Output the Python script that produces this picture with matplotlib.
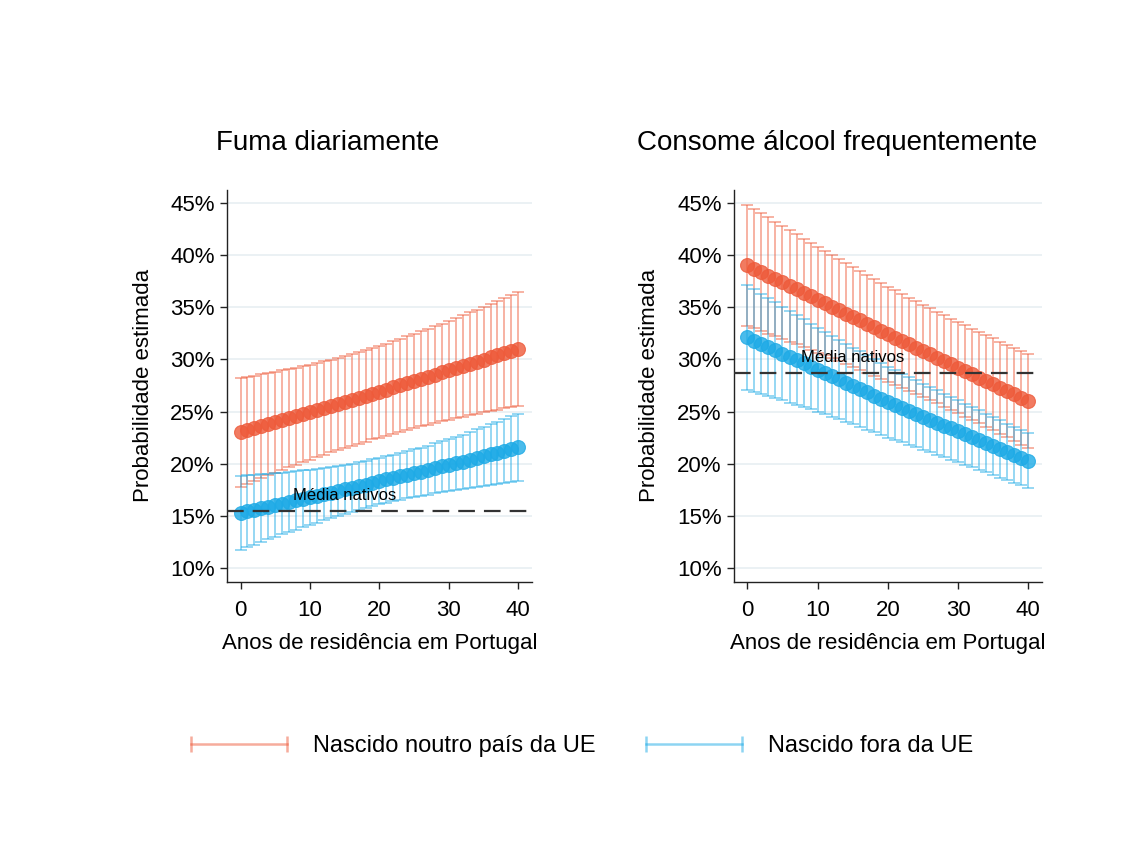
import numpy as np
import matplotlib.pyplot as plt
from matplotlib.lines import Line2D
from matplotlib.ticker import FuncFormatter

plt.rcParams['font.family'] = ['Liberation Sans', 'DejaVu Sans']
plt.rcParams['lines.scale_dashes'] = False

anos = np.arange(0, 41)

# Fuma diariamente (%), estimativas e meia-amplitude do IC 95%
fuma_ue = [23.0, 23.2, 23.39, 23.59, 23.78, 23.98, 24.17, 24.37, 24.56, 24.76, 24.95,
           25.15, 25.34, 25.54, 25.73, 25.93, 26.12, 26.32, 26.51, 26.71, 26.9,
           27.1, 27.31, 27.51, 27.72, 27.92, 28.13, 28.33, 28.54, 28.74, 28.95,
           29.15, 29.36, 29.56, 29.77, 29.97, 30.18, 30.38, 30.59, 30.79, 31.0]
fuma_ue_ic = [5.20, 5.12, 5.04, 4.96, 4.89, 4.82, 4.76, 4.70, 4.64, 4.59, 4.54,
              4.50, 4.47, 4.44, 4.42, 4.40, 4.39, 4.38, 4.38, 4.38, 4.39,
              4.40, 4.42, 4.44, 4.47, 4.50, 4.54, 4.58, 4.63, 4.68, 4.73,
              4.79, 4.85, 4.92, 4.99, 5.06, 5.13, 5.21, 5.29, 5.37, 5.45]
fuma_fora = [15.3, 15.45, 15.6, 15.75, 15.9, 16.05, 16.2, 16.35, 16.5, 16.65, 16.8,
             16.95, 17.1, 17.25, 17.4, 17.55, 17.7, 17.85, 18.0, 18.2, 18.35,
             18.5, 18.65, 18.8, 18.95, 19.1, 19.25, 19.4, 19.6, 19.75, 19.9,
             20.05, 20.2, 20.4, 20.55, 20.7, 20.9, 21.05, 21.2, 21.4, 21.6]
fuma_fora_ic = [3.55, 3.44, 3.34, 3.24, 3.14, 3.05, 2.96, 2.88, 2.80, 2.72, 2.65,
                2.58, 2.52, 2.46, 2.41, 2.36, 2.32, 2.29, 2.26, 2.24, 2.23,
                2.22, 2.22, 2.23, 2.25, 2.27, 2.30, 2.34, 2.38, 2.43, 2.48,
                2.54, 2.60, 2.67, 2.74, 2.81, 2.89, 2.97, 3.05, 3.13, 3.20]
fuma_nativos = 15.5

# Consome álcool frequentemente (%)
alcool_ue = [39.0, 38.67, 38.34, 38.01, 37.68, 37.35, 37.02, 36.69, 36.36, 36.03, 35.7,
             35.37, 35.04, 34.71, 34.38, 34.05, 33.72, 33.39, 33.06, 32.73, 32.4,
             32.08, 31.76, 31.44, 31.12, 30.8, 30.48, 30.16, 29.84, 29.52, 29.2,
             28.88, 28.56, 28.24, 27.92, 27.6, 27.28, 26.96, 26.64, 26.32, 26.0]
alcool_ue_ic = [5.80, 5.72, 5.64, 5.56, 5.48, 5.40, 5.33, 5.26, 5.19, 5.12, 5.05,
                4.99, 4.93, 4.87, 4.81, 4.76, 4.71, 4.66, 4.62, 4.58, 4.54,
                4.51, 4.48, 4.45, 4.43, 4.41, 4.39, 4.38, 4.37, 4.36, 4.36,
                4.36, 4.37, 4.38, 4.39, 4.40, 4.42, 4.44, 4.46, 4.48, 4.50]
alcool_fora = [32.1, 31.79, 31.48, 31.17, 30.86, 30.55, 30.24, 29.93, 29.62, 29.31, 29.0,
               28.69, 28.38, 28.07, 27.76, 27.45, 27.14, 26.83, 26.52, 26.21, 25.9,
               25.62, 25.34, 25.06, 24.78, 24.5, 24.22, 23.94, 23.66, 23.38, 23.1,
               22.82, 22.54, 22.26, 21.98, 21.7, 21.42, 21.14, 20.86, 20.58, 20.3]
alcool_fora_ic = [5.00, 4.89, 4.78, 4.68, 4.58, 4.48, 4.38, 4.28, 4.19, 4.10, 4.01,
                  3.94, 3.87, 3.80, 3.73, 3.67, 3.61, 3.55, 3.50, 3.45, 3.40,
                  3.35, 3.30, 3.26, 3.21, 3.17, 3.13, 3.09, 3.05, 3.01, 2.97,
                  2.93, 2.89, 2.85, 2.81, 2.78, 2.74, 2.71, 2.67, 2.64, 2.60]
alcool_nativos = 28.7

titulos = ['Fuma diariamente', 'Consome álcool frequentemente']
legenda = ['Nascido noutro país da UE', 'Nascido fora da UE']
yticks = [10, 15, 20, 25, 30, 35, 40, 45]
xticks = [0, 10, 20, 30, 40]

cor_ue = '#EE5A3A'
cor_fora = '#1DAAE6'


def painel(ax, ue, ue_ic, fora, fora_ic, nativos):
    for y, ic, cor in [(ue, ue_ic, cor_ue), (fora, fora_ic, cor_fora)]:
        ax.errorbar(anos, y, yerr=ic, fmt='none', ecolor=cor, alpha=0.5,
                    elinewidth=1.3, capsize=4, capthick=1.3, zorder=2)
        ax.plot(anos, y, 'o', color=cor, ms=10, alpha=0.8, mew=0.8, zorder=3)
    ax.axhline(nativos, color='#333333', lw=1.6, dashes=(12, 6.5), zorder=4)
    ax.text(15, nativos + 1.45, 'Média nativos', fontsize=12, ha='center',
            va='center', zorder=5)
    ax.set_ylim(8.72, 46.2)
    ax.set_xlim(-1.9, 41.9)
    ax.set_yticks(yticks)
    ax.set_xticks(xticks)
    ax.yaxis.set_major_formatter(FuncFormatter(lambda v, p: '%d%%' % v))
    ax.grid(axis='y', color='#E8EFF2', lw=1.2, zorder=0)
    ax.set_axisbelow(True)
    for s in ['top', 'right']:
        ax.spines[s].set_visible(False)
    for s in ['left', 'bottom']:
        ax.spines[s].set_color('#222222')
        ax.spines[s].set_linewidth(1.0)
    ax.tick_params(labelsize=16, length=5, width=1, color='#222222', pad=4)
    ax.tick_params(axis='x', pad=8)
    ax.set_xlabel('Anos de residência em Portugal', fontsize=16, labelpad=9)
    ax.set_ylabel('Probabilidade estimada', fontsize=16, labelpad=12)


fig = plt.figure(figsize=(11.48, 8.43), dpi=100)
ax1 = fig.add_axes([0.198, 0.310, 0.265, 0.4646])
ax2 = fig.add_axes([0.6394, 0.310, 0.268, 0.4646])

painel(ax1, fuma_ue, fuma_ue_ic, fuma_fora, fuma_fora_ic, fuma_nativos)
painel(ax2, alcool_ue, alcool_ue_ic, alcool_fora, alcool_fora_ic, alcool_nativos)

fig.text(0.2857, 0.830, titulos[0], fontsize=20, ha='center', va='center')
fig.text(0.729, 0.830, titulos[1], fontsize=20, ha='center', va='center')

handles = [Line2D([], [], color=c, alpha=0.5, lw=1.8, marker='|', ms=12, mew=1.8)
           for c in [cor_ue, cor_fora]]
fig.legend(handles, legenda, loc='center', bbox_to_anchor=(0.504, 0.1145), ncol=2,
           frameon=False, fontsize=17, numpoints=2, handlelength=4.66,
           handletextpad=0.8, columnspacing=1.86)

fig.savefig('out.png', dpi=100)
